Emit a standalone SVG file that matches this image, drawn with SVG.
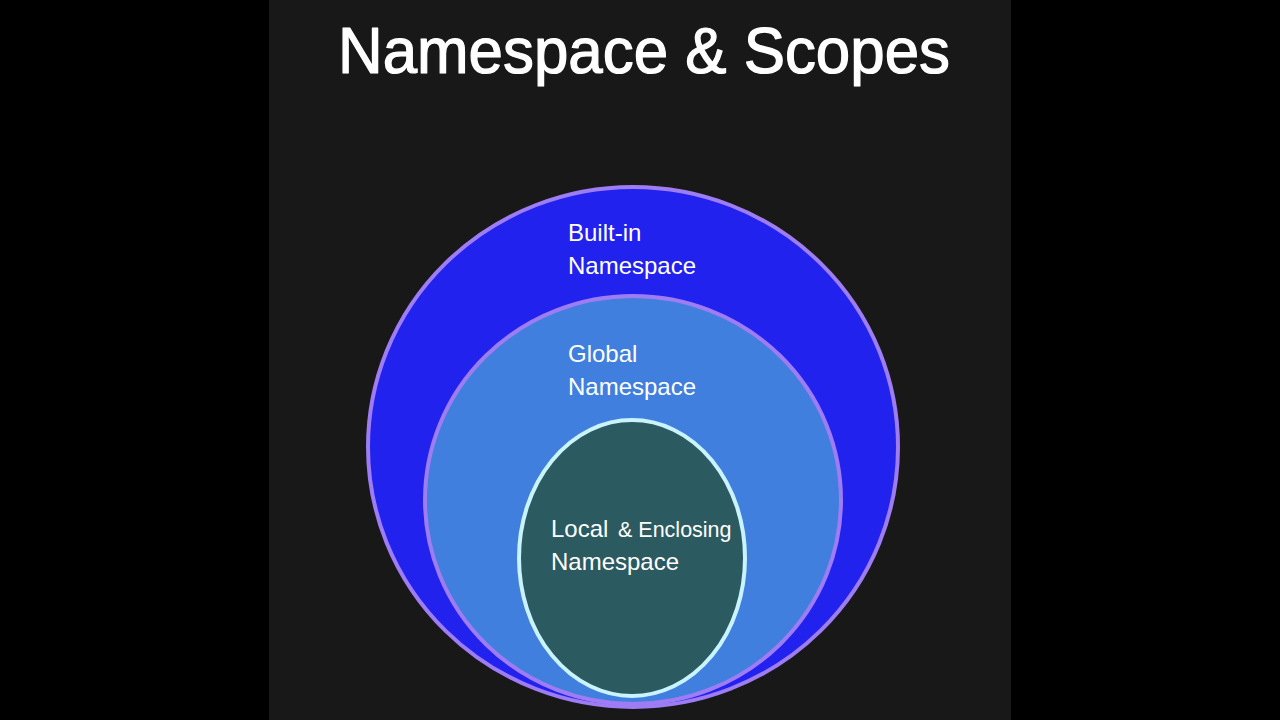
<svg xmlns="http://www.w3.org/2000/svg" width="1280" height="720" viewBox="0 0 1280 720">
<style>
.lbl{font-family:"Liberation Sans",Arial,sans-serif;font-size:24px;fill:#ffffff}
.title{font-family:"Liberation Sans",Arial,sans-serif;font-size:64px;fill:#ffffff;stroke:#ffffff;stroke-width:1.2;stroke-linejoin:round}
.ring{stroke:#9e7cf3;stroke-width:4}
</style>
<rect x="0" y="0" width="1280" height="720" fill="#000000"/>
<rect x="269" y="0" width="742" height="720" fill="#181818"/>
<text class="title" x="338" y="73" textLength="612" lengthAdjust="spacingAndGlyphs">Namespace &amp; Scopes</text>
<g id="builtin">
<ellipse class="ring" cx="633" cy="447" rx="265" ry="260" fill="#2222ee"/>
<text class="lbl" x="568" y="241">Built-in</text>
<text class="lbl" x="568" y="274">Namespace</text>
</g>
<g id="global">
<ellipse class="ring" cx="633" cy="500" rx="208" ry="204" fill="#407fdd"/>
<text class="lbl" x="568" y="362">Global</text>
<text class="lbl" x="568" y="395">Namespace</text>
</g>
<g id="local">
<ellipse cx="632" cy="558" rx="113" ry="138" fill="#2b5a60" stroke="#c9f3ff" stroke-width="4"/>
<text class="lbl" x="551" y="537">Local <tspan x="618" font-size="21.5">&amp; Enclosing</tspan></text>
<text class="lbl" x="551" y="570">Namespace</text>
</g>
<g id="connectors"/>
</svg>
